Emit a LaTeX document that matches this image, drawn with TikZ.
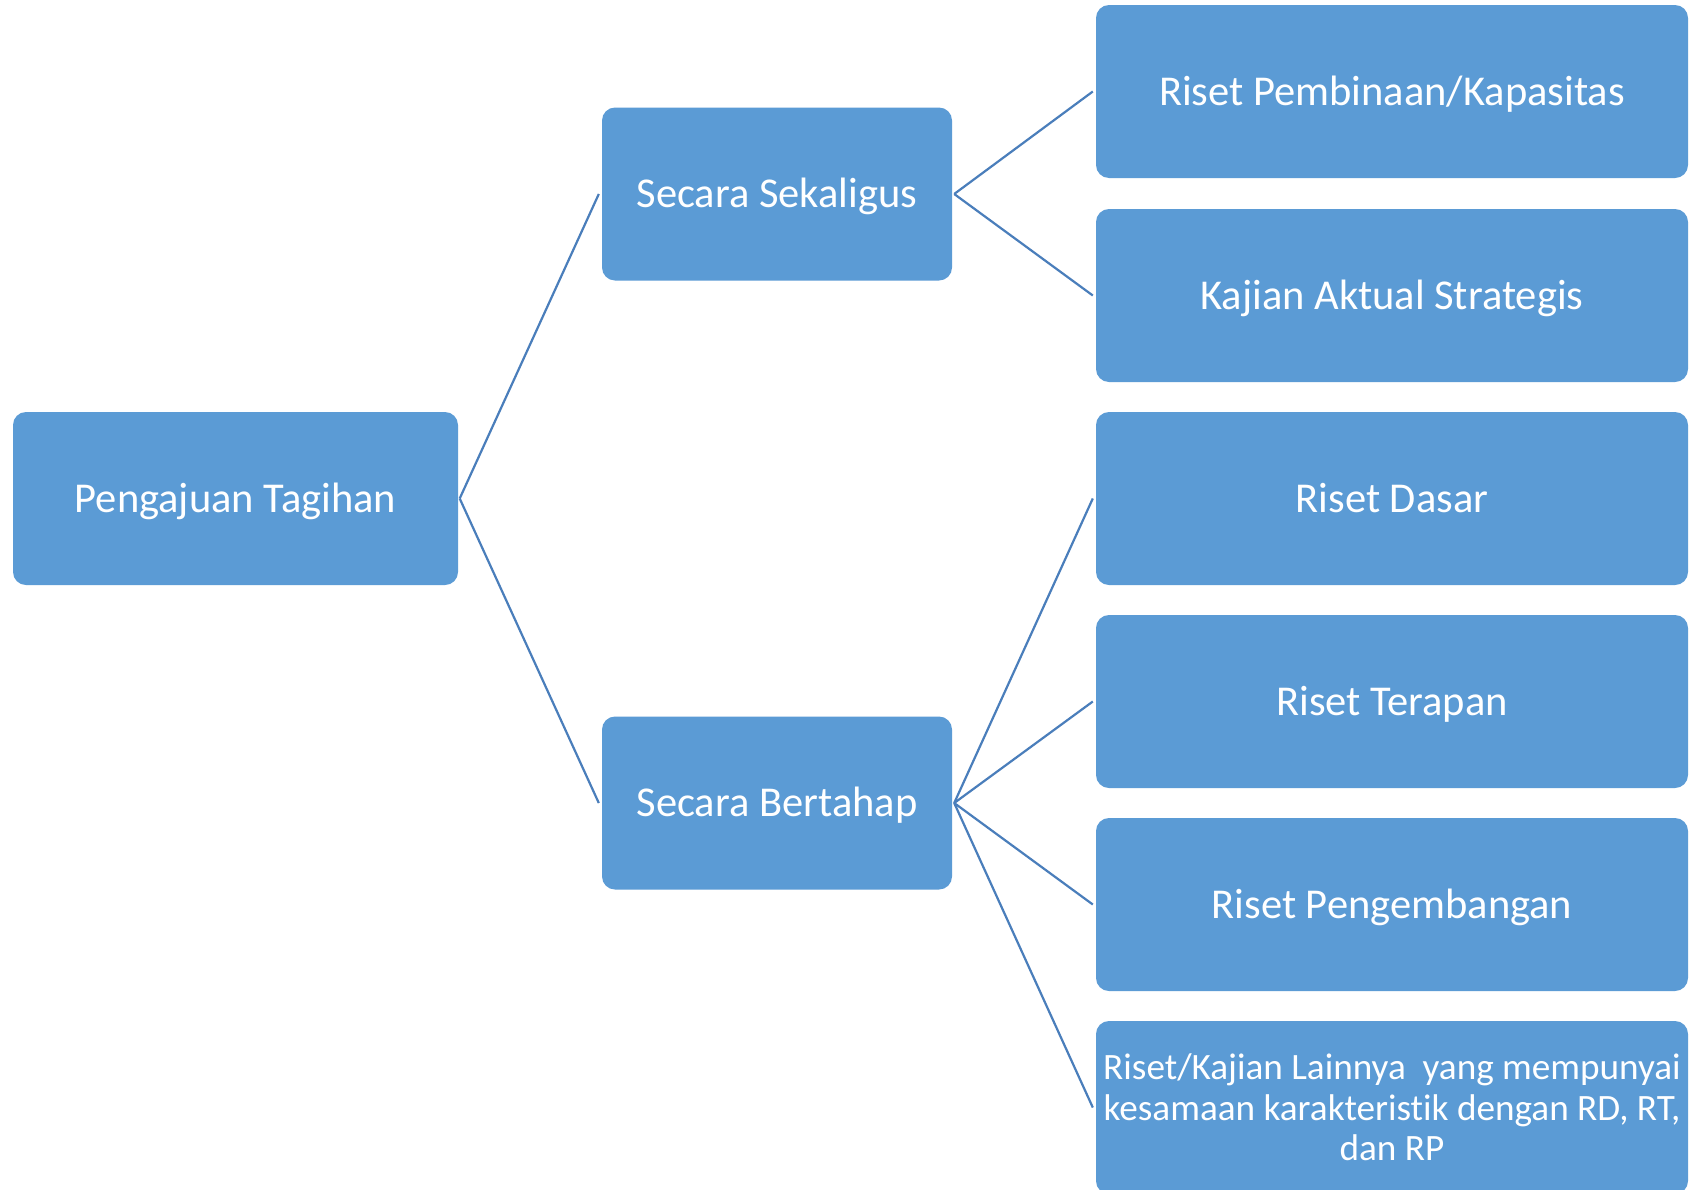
\documentclass[tikz,border=0pt]{standalone}
\usepackage{fontspec}
\setmainfont{Carlito}[Ligatures=NoCommon]
\definecolor{boxblue}{HTML}{5B9BD5}
\definecolor{linkblue}{HTML}{4A7EBB}
\begin{document}
\begin{tikzpicture}[x=1pt,y=1pt,
  box/.style={fill=boxblue, draw=none, rounded corners=13pt, text=white,
    font=\fontsize{42.5}{50}\selectfont, align=center, inner sep=0pt},
  oneline/.style={text height=32pt, text depth=4.6pt},
  mid/.style={box, oneline, minimum width=350pt, minimum height=173pt},
  leaf/.style={box, minimum width=592pt, minimum height=173pt},
  link/.style={draw=linkblue, line width=2.2pt}]
\clip (0,0) rectangle (1692,-1189);
\fill[white] (0,0) rectangle (1692,-1189);
\node[box, oneline, minimum width=445pt, minimum height=173pt] (root) at (235.5,-498.5) {Pengajuan Tagihan};
\node[mid] (sek) at (777,-194) {Secara Sekaligus};
\node[mid] (bert) at (777,-803) {Secara Bertahap};
\node[leaf, oneline] (r1) at (1392,-91.5) {Riset Pembinaan/Kapasitas};
\node[leaf, oneline] (r2) at (1392,-295.5) {Kajian Aktual Strategis};
\node[leaf, oneline] (r3) at (1392,-498.5) {Riset Dasar};
\node[leaf, oneline] (r4) at (1392,-701.5) {Riset Terapan};
\node[leaf, oneline] (r5) at (1392,-904.5) {Riset Pengembangan};
\node[leaf, font=\fontsize{37.2}{40.5}\selectfont] (r6) at (1392,-1107.5) {Riset/Kajian Lainnya\ \ yang mempunyai\\kesamaan karakteristik dengan RD, RT,\\dan RP};
\coordinate (rootE) at ([xshift=1.5pt]root.east);
\coordinate (sekE) at ([xshift=2pt]sek.east);
\coordinate (bertE) at ([xshift=2pt]bert.east);
\draw[link] (rootE) -- ([xshift=-3pt]sek.west);
\draw[link] (rootE) -- ([xshift=-3pt]bert.west);
\foreach \t in {r1,r2} \draw[link] (sekE) -- ([xshift=-3pt]\t.west);
\foreach \t in {r3,r4,r5,r6} \draw[link] (bertE) -- ([xshift=-3pt]\t.west);
\end{tikzpicture}
\end{document}
